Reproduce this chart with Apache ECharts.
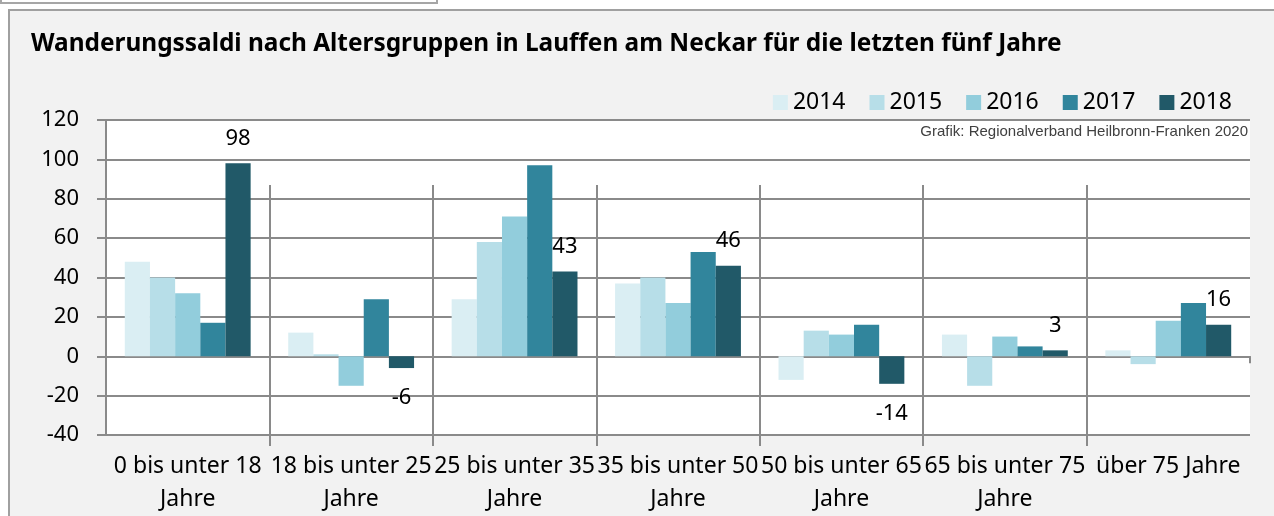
<!DOCTYPE html>
<html>
<head>
<meta charset="utf-8">
<title>Wanderungssaldi Lauffen am Neckar</title>
<script src="https://cdn.jsdelivr.net/npm/echarts@6/dist/echarts.min.js"></script>
<style>
	body{margin:0;background:#fff;overflow:hidden;}
	.topBox{position:absolute;left:0;top:-10px;width:434px;height:10px;border:2px solid #a6a6a6;background:#fff;}
	.frame{position:absolute;left:8px;top:9px;width:1300px;height:600px;border:2px solid #a0a0a0;background:#f2f2f2;}
	#saldoChart{position:absolute;left:0;top:0;width:1274px;height:516px;}
</style>
</head>
<body>
<div class="topBox"></div>
<div class="frame"></div>
<div id="saldoChart"></div>
<script>
/*Altersgruppen*/
var ageGroups = ['0 bis unter 18\nJahre', '18 bis unter 25\nJahre', '25 bis unter 35\nJahre', '35 bis unter 50\nJahre',
	'50 bis unter 65\nJahre', '65 bis unter 75\nJahre', 'über 75 Jahre'];
var years = ['2014', '2015', '2016', '2017', '2018'];
/*Wanderungssaldi je Jahr*/
var saldo2014 = [48, 12, 29, 37, -12, 11, 3];
var saldo2015 = [40, 1, 58, 40, 13, -15, -4];
var saldo2016 = [32, -15, 71, 27, 11, 10, 18];
var saldo2017 = [17, 29, 97, 53, 16, 5, 27];
var saldo2018 = [98, -6, 43, 46, -14, 3, 16];
var yTicks = [-40, -20, 0, 20, 40, 60, 80, 100, 120];

var colors = ['#daeef3', '#b7dee8', '#92cddc', '#31859c', '#215968'];
var lineColor = '#8a8a8a';
var fontName = 'Noto Sans';

window.onload = function(){
	var saldoChart = echarts.init(document.getElementById('saldoChart'));
	var allSeries = [saldo2014, saldo2015, saldo2016, saldo2017, saldo2018];
	var series = [];
	for (var i = 0; i < years.length; i++) {
		var item = {
			name : years[i],
			type : 'bar',
			xAxisIndex : 0,
			yAxisIndex : 0,
			barGap : '0%',
			barCategoryGap : '23%',
			itemStyle : { color : colors[i] },
			data : allSeries[i]
		};
		/*nur 2018 beschriften*/
		if (i === years.length - 1) {
			item.data = allSeries[i].map(function(v){
				return {
					value : v,
					label : { position : v < 0 ? 'bottom' : 'top', distance : v < 0 ? 19 : 14 }
				};
			});
			item.label = {
				show : true,
				fontFamily : fontName,
				fontSize : 22,
				color : '#000'
			};
		}
		series.push(item);
	}

	var option = {
		animation : false,
		textStyle : { fontFamily : fontName },
		graphic : [ {
			type : 'text',
			left : 31,
			top : 32,
			style : {
				text : 'Wanderungssaldi nach Altersgruppen in Lauffen am Neckar für die letzten fünf Jahre',
				font : 'bold 24.4px "Noto Sans"',
				fill : '#000'
			}
		}, {
			type : 'text',
			right : 26,
			top : 124,
			z : 10,
			style : {
				text : 'Grafik: Regionalverband Heilbronn-Franken 2020',
				font : '15px "Liberation Sans"',
				fill : '#404040'
			}
		} ],
		legend : {
			data : years,
			right : 37,
			top : 86,
			icon : 'rect',
			itemWidth : 15,
			itemHeight : 15,
			itemGap : 24,
			textStyle : { fontSize : 23, color : '#000', fontFamily : fontName }
		},
		grid : [ {
			left : 106,
			right : 24,
			top : 120,
			bottom : 81,
			show : true,
			backgroundColor : '#fff',
			borderWidth : 0
		}, {
			/*Trennlinien und Beschriftung der Altersgruppen*/
			left : 106,
			right : 24,
			top : 185,
			bottom : 63
		} ],
		xAxis : [ {
			type : 'category',
			gridIndex : 0,
			data : ageGroups,
			axisLine : { onZero : true, lineStyle : { color : lineColor, width : 2 } },
			axisTick : { show : true, length : 7, lineStyle : { color : lineColor, width : 2 } },
			axisLabel : { show : false },
			splitLine : { show : false }
		}, {
			type : 'category',
			gridIndex : 1,
			position : 'bottom',
			data : ageGroups,
			axisLine : { show : false, onZero : false },
			axisTick : { show : false },
			splitLine : {
				show : true,
				showMinLine : false,
				showMaxLine : false,
				lineStyle : { color : lineColor, width : 2 }
			},
			axisLabel : {
				interval : 0,
				margin : 4,
				fontSize : 23,
				lineHeight : 33,
				color : '#000',
				fontFamily : fontName
			}
		} ],
		yAxis : [ {
			type : 'value',
			gridIndex : 0,
			min : yTicks[0],
			max : yTicks[yTicks.length - 1],
			interval : 20,
			axisLine : { show : true, lineStyle : { color : lineColor, width : 2 } },
			axisTick : { show : true, length : 9, lineStyle : { color : lineColor, width : 2 } },
			splitLine : { show : true, lineStyle : { color : lineColor, width : 2 } },
			axisLabel : { margin : 27, fontSize : 22, color : '#000', fontFamily : fontName }
		}, {
			type : 'value',
			gridIndex : 1,
			show : false
		} ],
		series : series
	};
	saldoChart.setOption(option);
};
</script>
</body>
</html>
